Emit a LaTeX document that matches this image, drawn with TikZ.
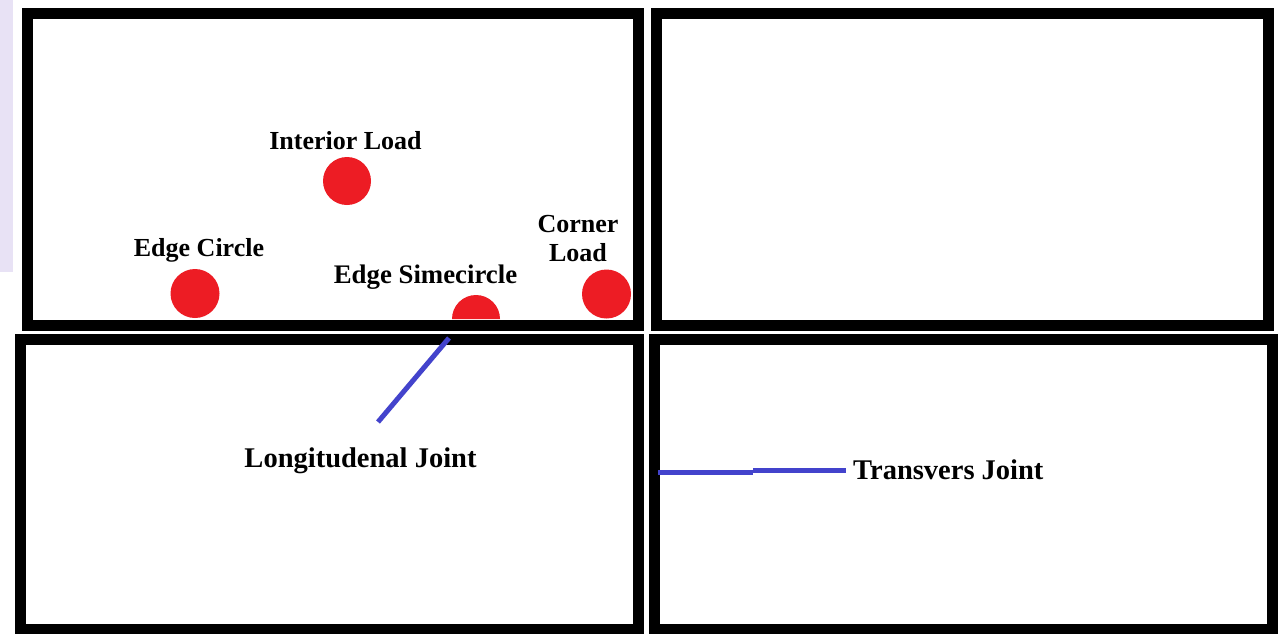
\documentclass[tikz,border=0pt]{standalone}
\usepackage{fontspec}
\setmainfont{Liberation Serif}
\definecolor{loadred}{HTML}{ED1C24}
\definecolor{jointblue}{HTML}{4343CC}
\definecolor{lav}{HTML}{E8E2F5}
\tikzset{
  slab/.style={draw=black,line width=11pt,line join=miter},
  load/.style={fill=loadred,draw=none},
  lbl/.style={font=\fontsize{26}{30}\selectfont\bfseries,inner sep=0pt,anchor=base,text=black},
  biglbl/.style={lbl,font=\fontsize{28.5}{32}\selectfont\bfseries},
  joint/.style={draw=jointblue,line width=5pt},
}
\begin{document}
\begin{tikzpicture}[x=1pt,y=-1pt]
\useasboundingbox (0,0) rectangle (1288,633);
\fill[white] (0,0) rectangle (1288,633);
\fill[lav] (0,0) rectangle (13,272);
% slabs
\draw[slab] (27.5,13.5) rectangle (638.5,325.7);
\draw[slab] (656,13.5) rectangle (1268,325.7);
\draw[slab] (20.5,339.5) rectangle (638.5,629.5);
\draw[slab] (654,339.5) rectangle (1272.5,629.5);
% loads
\fill[load] (347,181) circle (24);
\fill[load] (195,293.5) circle (24.5);
\fill[load] (606.5,294) circle (24.5);
\fill[load] (452,319) arc[start angle=180,end angle=360,radius=24] -- cycle;
% labels
\node[lbl] (interior) at (345.5,149) {Interior Load};
\node[lbl] (edgec) at (199,256.5) {Edge Circle};
\node[lbl,font=\fontsize{26.8}{30}\selectfont\bfseries] (edges) at (425.5,283) {Edge Simecircle};
\node[lbl] (corner) at (578,232) {Corner};
\node[lbl] (cload) at (578,261) {Load};
\node[biglbl] (longj) at (360.5,467) {Longitudenal Joint};
\node[biglbl,anchor=base west] (transj) at (853,479) {Transvers Joint};
% joints
\coordinate (lj1) at (449,338);
\coordinate (lj2) at (378,422);
\draw[joint] (lj1) -- (lj2);
\coordinate (tj1) at (658,472);
\coordinate (tj2) at (753,472);
\coordinate (tj3) at (753,470);
\coordinate (tj4) at (846,470);
\draw[joint] (tj1) -- (tj2);
\draw[joint] (tj3) -- (tj4);
\end{tikzpicture}
\end{document}
